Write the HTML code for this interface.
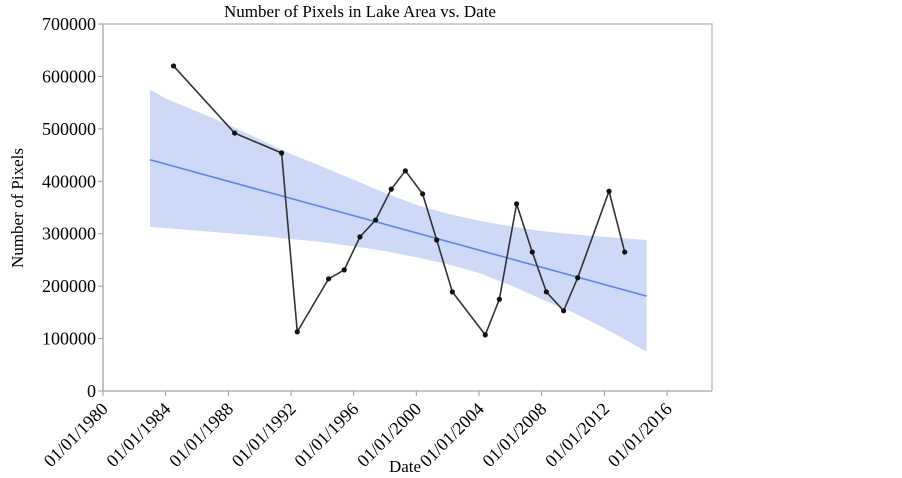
<!DOCTYPE html>
<html><head><meta charset="utf-8"><style>
html,body{margin:0;padding:0;background:#fff;}
svg{display:block;font-family:"Liberation Serif",serif;}
</style></head><body>
<svg id="chart" width="902" height="478">
<text x="360" y="17" text-anchor="middle" font-size="17">Number of Pixels in Lake Area vs. Date</text>
<text transform="translate(23,208) rotate(-90)" text-anchor="middle" font-size="17">Number of Pixels</text>
<text x="405" y="472" text-anchor="middle" font-size="17">Date</text>
<g id="plot"></g>
</svg>
<script>
const years=[1984.5,1988.4,1991.4,1992.4,1994.4,1995.4,1996.4,1997.4,1998.4,1999.3,2000.4,2001.3,2002.3,2004.4,2005.3,2006.4,2007.4,2008.3,2009.4,2010.3,2012.3,2013.3];
const pixels=[620000,492000,454000,113000,214000,231000,294000,326000,385000,420000,376000,288000,189000,107000,175000,357000,265000,189000,153000,216000,381000,265000];
const bandYears=[1983,1984,1986,1988,1990,1992,1994,1996,1998,2000,2002,2004,2006,2008,2010,2012,2014.7];
const bandUpper=[575000,558000,533000,508000,480000,452000,428000,403000,378000,355000,338000,325000,314000,305000,299000,294000,288000];
const bandLower=[313000,311000,306000,301000,296000,290000,284000,276000,267000,255000,242000,225000,202000,175000,150000,120000,75000];
const trendYears=[1983,2014.7];
const trendValues=[441000,181000];
const xTickYears=[1980,1984,1988,1992,1996,2000,2004,2008,2012,2016];
const xTickLabels=["01/01/1980","01/01/1984","01/01/1988","01/01/1992","01/01/1996","01/01/2000","01/01/2004","01/01/2008","01/01/2012","01/01/2016"];
const yTicks=[0,100000,200000,300000,400000,500000,600000,700000];

const L=103,R=712,T=24,B=391;
const x=v=>L+(v-1980)*(667-103)/36;
const y=v=>B-(v/700000)*(B-T);
const NS="http://www.w3.org/2000/svg";
const g=document.getElementById('plot');
function mk(tag,attrs){const e=document.createElementNS(NS,tag);for(const k in attrs)e.setAttribute(k,attrs[k]);g.appendChild(e);return e;}

let pts=bandYears.map((yr,i)=>x(yr)+','+y(bandUpper[i]));
for(let i=bandYears.length-1;i>=0;i--)pts.push(x(bandYears[i])+','+y(bandLower[i]));
const band=mk('polygon',{points:pts.join(' '),fill:'#cdd9f6'});



const tr=mk('line',{x1:x(trendYears[0]),y1:y(trendValues[0]),x2:x(trendYears[1]),y2:y(trendValues[1]),stroke:'#5b86e0','stroke-width':1.6});



const fr=mk('polyline',{points:`${L},${T} ${R},${T} ${R},${B}`,fill:'none',stroke:'#c0c0c0','stroke-width':1.5});


const ya=mk('line',{x1:L,y1:T,x2:L,y2:B,stroke:'#b0b0b0','stroke-width':1.5});


const xa=mk('line',{x1:L,y1:B,x2:R,y2:B,stroke:'#b0b0b0','stroke-width':1.5});



yTicks.forEach(v=>{
 const t=mk('line',{x1:L-5,y1:y(v),x2:L,y2:y(v),stroke:'#999'});
 
 
 const tx=mk('text',{x:L-7,y:y(v)+6,'text-anchor':'end','font-size':18});
 tx.textContent=v;
 
 
});
xTickYears.forEach((v,i)=>{
 const t=mk('line',{x1:x(v),y1:B,x2:x(v),y2:B+5,stroke:'#999'});
 
 
 const tx=mk('text',{transform:`translate(${x(v)+6},${B+19}) rotate(-45)`,'text-anchor':'end','font-size':18});
 tx.textContent=xTickLabels[i];
 
 
});

const ln=mk('polyline',{points:years.map((yr,i)=>x(yr)+','+y(pixels[i])).join(' '),fill:'none',stroke:'#333','stroke-width':1.6});


years.forEach((yr,i)=>{
 const c=mk('circle',{cx:x(yr),cy:y(pixels[i]),r:2.6,fill:'#111'});
 
 
});
</script>
</body></html>
